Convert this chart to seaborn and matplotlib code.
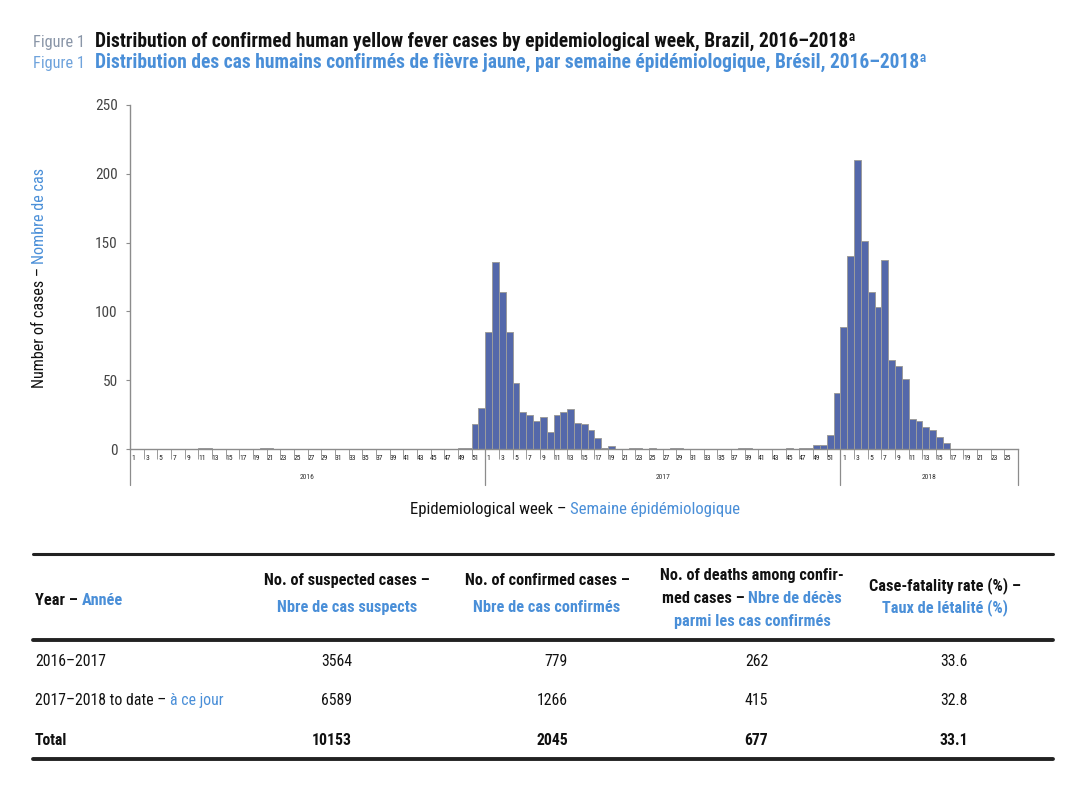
import numpy as np
import pandas as pd
import matplotlib
matplotlib.use("Agg")
import matplotlib.pyplot as plt
import seaborn as sns
from matplotlib import font_manager as fm
from matplotlib.transforms import IdentityTransform
from matplotlib.lines import Line2D

# ---------------- data ----------------
weeks_2016 = list(range(1, 53))
cases_2016 = [0, 0, 0, 0, 0, 0, 0, 0, 0, 0,
              1, 1, 0, 0, 0, 0, 0, 0, 0, 1,
              1, 0, 0, 0, 0, 0, 0, 0, 0, 0,
              0, 0, 0, 0, 0, 0, 0, 0, 0, 0,
              0, 0, 0, 0, 0, 0, 0, 0, 1, 1,
              18, 30]
weeks_2017 = list(range(1, 53))
cases_2017 = [85, 136, 114, 85, 48, 27, 25, 20, 23, 12,
              25, 27, 29, 19, 18, 14, 8, 1, 2, 0,
              0, 1, 1, 0, 1, 0, 0, 1, 1, 0,
              0, 0, 0, 0, 0, 0, 0, 1, 1, 0,
              0, 0, 0, 0, 1, 0, 1, 1, 3, 3,
              10, 41]
weeks_2018 = list(range(1, 27))
cases_2018 = [89, 140, 210, 151, 114, 103, 137, 65, 60, 51,
              22, 20, 16, 14, 9, 4, 0, 0, 0, 0,
              0, 0, 0, 0, 0, 0]
years = ["2016", "2017", "2018"]
y_ticks = [0, 50, 100, 150, 200, 250]

table_years = ["2016–2017", "2017–2018 to date – ", "Total"]
table_suspected = ["3564", "6589", "10153"]
table_confirmed = ["779", "1266", "2045"]
table_deaths = ["262", "415", "677"]
table_cfr = ["33.6", "32.8", "33.1"]

rows = []
for yr, wks, cs in zip(years, [weeks_2016, weeks_2017, weeks_2018],
                       [cases_2016, cases_2017, cases_2018]):
    for w, c in zip(wks, cs):
        rows.append({"key": f"{yr}-{w:02d}", "year": yr, "week": w, "cases": c})
df = pd.DataFrame(rows)

# ---------------- style ----------------
sns.set_theme(style="white")
names = {f.name for f in fm.fontManager.ttflist}
FONT = next((n for n in ["Roboto Condensed", "Liberation Sans Narrow",
                         "Open Sans Condensed", "DejaVu Sans"] if n in names),
            "DejaVu Sans")
plt.rcParams["font.family"] = [FONT, "DejaVu Sans"]

BLUE = "#4a8fd8"
BLACK = "#111111"
BAR = "#5468aa"

W, H = 1080, 810
fig = plt.figure(figsize=(W / 100, H / 100), dpi=100)
fig.patch.set_facecolor("white")
R = fig.canvas.get_renderer()
ID = IdentityTransform()


def P(y):  # top-origin pixel -> display y
    return H - y


def _w(s, size, weight):
    t = fig.text(0, 0, s + "x", fontsize=size, fontweight=weight, transform=ID)
    t2 = fig.text(0, 0, "x", fontsize=size, fontweight=weight, transform=ID)
    w = t.get_window_extent(R).width - t2.get_window_extent(R).width
    t.remove(); t2.remove()
    return w


def fit(parts, target):
    w = sum(_w(s, 10, wt) for s, c, wt in parts)
    return 10 * target / w


def rich(parts, x, y, size, ha="left", rotation=0):
    ws = [_w(s, size, wt) for s, c, wt in parts]
    tot = sum(ws)
    off = {"left": 0, "center": tot / 2, "right": tot}[ha]
    if rotation == 0:
        cx = x - off
        for (s, c, wt), w in zip(parts, ws):
            fig.text(cx, P(y), s, color=c, fontsize=size, fontweight=wt,
                     transform=ID, ha="left", va="baseline")
            cx += w
    else:
        cy = P(y) - off
        for (s, c, wt), w in zip(parts, ws):
            fig.text(x, cy, s, color=c, fontsize=size, fontweight=wt,
                     transform=ID, ha="center", va="bottom", rotation=90)
            cy += w


# ---------------- titles ----------------
t1 = "Distribution of confirmed human yellow fever cases by epidemiological week, Brazil, 2016–2018ª"
t2 = "Distribution des cas humains confirmés de fièvre jaune, par semaine épidémiologique, Brésil, 2016–2018ª"
ts = fit([(t1, BLACK, "bold")], 763)
fs_fig = fit([("Figure 1", BLACK, "normal")], 52)
fig.text(33, P(46.5), "Figure 1", color="#8a96a8", fontsize=fs_fig, transform=ID)
fig.text(95, P(46.5), t1, color=BLACK, fontsize=ts, fontweight="bold", transform=ID)
fig.text(33, P(68), "Figure 1", color="#6fa3dc", fontsize=fs_fig, transform=ID)
fig.text(95, P(68), t2, color=BLUE, fontsize=ts, fontweight="bold", transform=ID)

# ---------------- chart ----------------
ax = fig.add_axes([130 / W, 1 - 449 / H, 888 / W, 344 / H])
sns.barplot(data=df, x="key", y="cases", color=BAR, saturation=1,
            edgecolor="#9c9c9c", linewidth=0.7, width=1.0, errorbar=None, ax=ax)
n = len(df)
ax.set_xlim(-0.5, n - 0.5)
ax.set_ylim(0, 250)
ax.set_yticks(y_ticks)
ax.set_yticklabels([str(v) for v in y_ticks], fontsize=11, color="#444444")
ax.tick_params(axis="y", length=3, width=0.8, color="#8c8c8c", pad=6, left=True)

odd_idx = [i for i, w in enumerate(df["week"]) if w % 2 == 1]
ax.set_xticks(odd_idx)
ax.set_xticklabels([str(df["week"][i]) for i in odd_idx], fontsize=5.5, color="#222222")
ax.tick_params(axis="x", length=0, pad=4, bottom=True)
ax.set_xticks([i - 0.5 for i in range(0, n + 1, 2)], minor=True)
ax.tick_params(axis="x", which="minor", length=7, width=0.7, color="#9a9a9a", bottom=True)
ax.set_xlabel("")
ax.set_ylabel("")
for s in ["top", "right"]:
    ax.spines[s].set_visible(False)
for s in ["left", "bottom"]:
    ax.spines[s].set_color("#8c8c8c")
    ax.spines[s].set_linewidth(1.0)

xt = ax.get_xaxis_transform()
bounds = [-0.5]
start = 0
for yr in years:
    cnt = int((df["year"] == yr).sum())
    ax.text(start + cnt / 2 - 0.5, -28 / 344, yr, transform=xt, ha="center",
            va="center", fontsize=5.5, color="#333333")
    start += cnt
    bounds.append(start - 0.5)
for b in bounds:
    ax.plot([b, b], [0, -36 / 344], transform=xt, color="#8c8c8c",
            lw=0.9, clip_on=False)

# axis labels
ls = fit([("Epidemiological week – ", BLACK, "normal"),
          ("Semaine épidémiologique", BLUE, "normal")], 330)
rich([("Epidemiological week – ", BLACK, "normal"),
      ("Semaine épidémiologique", BLUE, "normal")], 575, 514, ls, ha="center")
rich([("Number of cases – ", BLACK, "normal"), ("Nombre de cas", BLUE, "normal")],
     40, 278, ls * 0.96, ha="center", rotation=90)

# ---------------- table ----------------
for yy, lw in [(554, 2.2), (640, 2.8), (759, 2.8)]:
    fig.add_artist(Line2D([33, 1053], [P(yy), P(yy)], transform=ID,
                          color="#222222", lw=lw))

hs = fit([("No. of suspected cases –", BLACK, "bold")], 165)
bs = fit([("2017–2018 to date – ", BLACK, "normal"), ("à ce jour", BLUE, "normal")], 187)

rich([("Year – ", BLACK, "bold"), ("Année", BLUE, "bold")], 35, 605, hs)
col_c = [347, 547, 752, 945]
rich([("No. of suspected cases –", BLACK, "bold")], col_c[0], 585, hs, ha="center")
rich([("Nbre de cas suspects", BLUE, "bold")], col_c[0], 612, hs, ha="center")
rich([("No. of confirmed cases –", BLACK, "bold")], col_c[1], 585, hs, ha="center")
rich([("Nbre de cas confirmés", BLUE, "bold")], col_c[1], 612, hs, ha="center")
rich([("No. of deaths among confir-", BLACK, "bold")], col_c[2], 580, hs, ha="center")
rich([("med cases – ", BLACK, "bold"), ("Nbre de décès", BLUE, "bold")], col_c[2], 603, hs, ha="center")
rich([("parmi les cas confirmés", BLUE, "bold")], col_c[2], 626, hs, ha="center")
rich([("Case-fatality rate (%) –", BLACK, "bold")], col_c[3], 590, hs, ha="center")
rich([("Taux de létalité (%)", BLUE, "bold")], col_c[3], 612, hs, ha="center")

row_y = [666, 705, 745]
right_x = [352, 568, 768, 968]
for i, ry in enumerate(row_y):
    wt = "bold" if i == 2 else "normal"
    if i == 1:
        rich([(table_years[i], BLACK, wt), ("à ce jour", BLUE, wt)], 35, ry, bs)
    else:
        rich([(table_years[i], BLACK, wt)], 35, ry, bs)
    for col, rx in zip([table_suspected, table_confirmed, table_deaths, table_cfr], right_x):
        fig.text(rx, P(ry), col[i], fontsize=bs, fontweight=wt, color=BLACK,
                 transform=ID, ha="right", va="baseline")

fig.savefig("out.png", dpi=100, facecolor="white")
